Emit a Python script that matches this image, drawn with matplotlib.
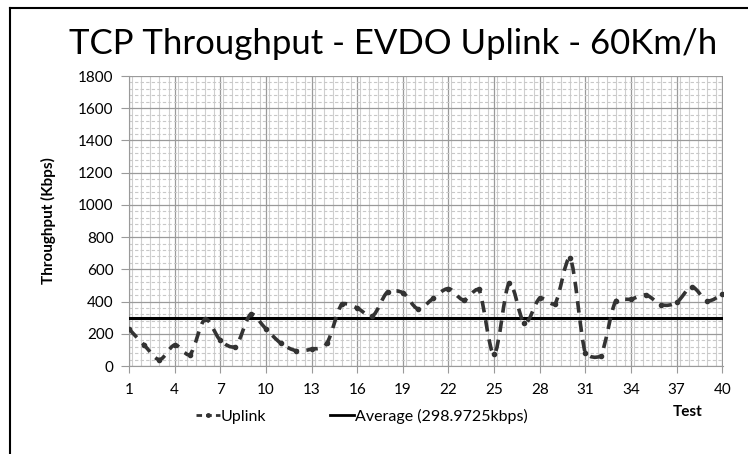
import matplotlib.pyplot as plt
from matplotlib.path import Path
from matplotlib.patches import PathPatch
from matplotlib.lines import Line2D
from matplotlib.ticker import MultipleLocator

# data
tests = list(range(1, 41))
uplink = [230, 130, 40, 130, 70, 290, 160, 120, 320, 230,
          140, 95, 105, 140, 385, 360, 310, 460, 455, 355,
          420, 480, 410, 475, 75, 515, 265, 420, 385, 670,
          80, 60, 405, 415, 440, 380, 395, 490, 405, 445]
average = 298.9725
y_ticks = list(range(0, 2000, 200))
x_ticks = list(range(1, 41, 3))

plt.rcParams['font.family'] = ['Lato', 'DejaVu Sans']

fig = plt.figure(figsize=(7.48, 4.54), dpi=100)
ax = fig.add_axes([129/748, 1 - 366/454, (723 - 129)/748, (366 - 76)/454])


def clamp(v, a, b):
    lo, hi = min(a, b) - 10, max(a, b) + 10
    return max(lo, min(hi, v))


# smoothed line (catmull-rom -> bezier), like Excel's smoothed line
pts = list(zip(tests, uplink))
verts = [pts[0]]
codes = [Path.MOVETO]
for i in range(len(pts) - 1):
    p0 = pts[i - 1] if i > 0 else pts[i]
    p1 = pts[i]
    p2 = pts[i + 1]
    p3 = pts[i + 2] if i + 2 < len(pts) else pts[i + 1]
    c1 = (p1[0] + (p2[0] - p0[0]) / 6, clamp(p1[1] + (p2[1] - p0[1]) / 6, p1[1], p2[1]))
    c2 = (p2[0] - (p3[0] - p1[0]) / 6, clamp(p2[1] - (p3[1] - p1[1]) / 6, p1[1], p2[1]))
    verts += [c1, c2, p2]
    codes += [Path.CURVE4] * 3
ax.add_patch(PathPatch(Path(verts, codes), fill=False, edgecolor='#333333',
                       lw=2.6, linestyle=(0, (3.2, 2.2)), capstyle='butt', zorder=4))
ax.plot(tests, uplink, 'o', color='#333333', ms=3, zorder=5)
ax.axhline(average, color='black', lw=2.2, zorder=3)

ax.set_xlim(1, 40.05)
ax.set_ylim(0, 1800)
ax.set_xticks(x_ticks)
ax.set_yticks(y_ticks)
ax.xaxis.set_minor_locator(MultipleLocator(0.6))
ax.yaxis.set_minor_locator(MultipleLocator(40))
ax.grid(which='major', axis='both', color='#9a9a9a', lw=0.9)
ax.grid(which='minor', axis='x', color='#cfcfcf', lw=0.8)
ax.grid(which='minor', axis='y', color='#c8c8c8', lw=0.8, linestyle=(0, (3, 2)))
ax.set_axisbelow(True)
for s in ['top', 'right']:
    ax.spines[s].set_visible(False)
ax.spines['left'].set_color('#9a9a9a')
ax.spines['bottom'].set_color('#9a9a9a')
ax.tick_params(axis='y', which='major', length=6, color='#9a9a9a', labelsize=11, pad=5)
ax.tick_params(axis='x', which='major', length=5, color='#9a9a9a', labelsize=11, pad=7)
ax.tick_params(which='minor', length=0)

ax.set_ylabel('Throughput (Kbps)', fontsize=11, fontweight='bold', labelpad=16)
fig.text(688/748, 1 - 412/454, 'Test', fontsize=11, fontweight='bold', ha='center', va='center')
fig.text(393/748, 1 - 44/454, 'TCP Throughput - EVDO Uplink - 60Km/h', fontsize=25,
         ha='center', va='center')

handles = [Line2D([], [], color='#333333', lw=2, linestyle=(0, (2, 1.5)), marker='o', ms=2.5),
           Line2D([], [], color='black', lw=2)]
fig.legend(handles, ['Uplink', 'Average (298.9725kbps)'], loc='center',
           bbox_to_anchor=(362/748, 1 - 416/454), ncol=2, frameon=False, fontsize=11.5,
           handlelength=1.5, handletextpad=0.05, columnspacing=4.0)

# chart frame
fig.add_artist(Line2D([10/748, 10/748], [0, 1 - 8/454], color='black', lw=1.5))
fig.add_artist(Line2D([10/748, 1], [1 - 8/454, 1 - 8/454], color='black', lw=1.5))

fig.savefig('out.png', dpi=100)
